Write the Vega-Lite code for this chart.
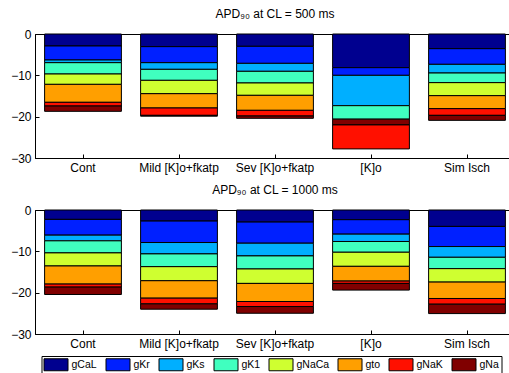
{
  "$schema": "https://vega.github.io/schema/vega-lite/v6.json",
  "padding": {"left": 10, "top": 7, "right": 0, "bottom": 0},
  "config": {
    "font": "Liberation Sans",
    "view": {"stroke": "black", "strokeWidth": 1},
    "axis": {"domainColor": "black", "tickColor": "black", "labelColor": "black", "labelFontSize": 12, "grid": false, "tickSize": -4, "labelPadding": 8, "domainWidth": 1, "tickWidth": 1},
    "title": {"fontSize": 12, "fontWeight": "normal", "color": "black"},
    "legend": {"orient": "none", "legendX": 6.5, "legendY": 322, "direction": "horizontal", "title": null, "symbolType": "M-1,-1H3V1H-1Z", "symbolSize": 144, "symbolStrokeColor": "black", "symbolStrokeWidth": 1, "symbolOpacity": 1, "labelFontSize": 10.5, "labelColor": "black", "labelOffset": 15, "columnPadding": 6, "padding": 2, "strokeColor": "black", "fillColor": "white"}
  },
  "datasets": {
    "apd": [
      {"cl": 500, "cond": "Cont", "g": "gCaL", "v": -2.9, "k": 1},
      {"cl": 500, "cond": "Cont", "g": "gKr", "v": -3.39, "k": 2},
      {"cl": 500, "cond": "Cont", "g": "gKs", "v": -0.65, "k": 3},
      {"cl": 500, "cond": "Cont", "g": "gK1", "v": -2.74, "k": 4},
      {"cl": 500, "cond": "Cont", "g": "gNaCa", "v": -2.5, "k": 5},
      {"cl": 500, "cond": "Cont", "g": "gto", "v": -4.35, "k": 6},
      {"cl": 500, "cond": "Cont", "g": "gNaK", "v": -0.89, "k": 7},
      {"cl": 500, "cond": "Cont", "g": "gNa", "v": -1.29, "k": 8},
      {"cl": 500, "cond": "Mild [K]o+fkatp", "g": "gCaL", "v": -3.06, "k": 1},
      {"cl": 500, "cond": "Mild [K]o+fkatp", "g": "gKr", "v": -3.88, "k": 2},
      {"cl": 500, "cond": "Mild [K]o+fkatp", "g": "gKs", "v": -1.61, "k": 3},
      {"cl": 500, "cond": "Mild [K]o+fkatp", "g": "gK1", "v": -2.66, "k": 4},
      {"cl": 500, "cond": "Mild [K]o+fkatp", "g": "gNaCa", "v": -3.23, "k": 5},
      {"cl": 500, "cond": "Mild [K]o+fkatp", "g": "gto", "v": -3.46, "k": 6},
      {"cl": 500, "cond": "Mild [K]o+fkatp", "g": "gNaK", "v": -1.78, "k": 7},
      {"cl": 500, "cond": "Mild [K]o+fkatp", "g": "gNa", "v": -0.2, "k": 8},
      {"cl": 500, "cond": "Sev [K]o+fkatp", "g": "gCaL", "v": -2.98, "k": 1},
      {"cl": 500, "cond": "Sev [K]o+fkatp", "g": "gKr", "v": -4.12, "k": 2},
      {"cl": 500, "cond": "Sev [K]o+fkatp", "g": "gKs", "v": -1.93, "k": 3},
      {"cl": 500, "cond": "Sev [K]o+fkatp", "g": "gK1", "v": -2.82, "k": 4},
      {"cl": 500, "cond": "Sev [K]o+fkatp", "g": "gNaCa", "v": -2.99, "k": 5},
      {"cl": 500, "cond": "Sev [K]o+fkatp", "g": "gto", "v": -3.63, "k": 6},
      {"cl": 500, "cond": "Sev [K]o+fkatp", "g": "gNaK", "v": -1.37, "k": 7},
      {"cl": 500, "cond": "Sev [K]o+fkatp", "g": "gNa", "v": -0.56, "k": 8},
      {"cl": 500, "cond": "[K]o", "g": "gCaL", "v": -8.15, "k": 1},
      {"cl": 500, "cond": "[K]o", "g": "gKr", "v": -1.85, "k": 2},
      {"cl": 500, "cond": "[K]o", "g": "gKs", "v": -7.34, "k": 3},
      {"cl": 500, "cond": "[K]o", "g": "gK1", "v": -3.26, "k": 4},
      {"cl": 500, "cond": "[K]o", "g": "gNa", "v": -1.4, "k": 7},
      {"cl": 500, "cond": "[K]o", "g": "gNaK", "v": -5.8, "k": 8},
      {"cl": 500, "cond": "Sim Isch", "g": "gCaL", "v": -3.55, "k": 1},
      {"cl": 500, "cond": "Sim Isch", "g": "gKr", "v": -3.79, "k": 2},
      {"cl": 500, "cond": "Sim Isch", "g": "gKs", "v": -2.1, "k": 3},
      {"cl": 500, "cond": "Sim Isch", "g": "gK1", "v": -2.33, "k": 4},
      {"cl": 500, "cond": "Sim Isch", "g": "gNaCa", "v": -3.15, "k": 5},
      {"cl": 500, "cond": "Sim Isch", "g": "gto", "v": -3.14, "k": 6},
      {"cl": 500, "cond": "Sim Isch", "g": "gNaK", "v": -1.62, "k": 7},
      {"cl": 500, "cond": "Sim Isch", "g": "gNa", "v": -1.21, "k": 8},
      {"cl": 1000, "cond": "Cont", "g": "gCaL", "v": -2.27, "k": 1},
      {"cl": 1000, "cond": "Cont", "g": "gKr", "v": -3.81, "k": 2},
      {"cl": 1000, "cond": "Cont", "g": "gKs", "v": -1.38, "k": 3},
      {"cl": 1000, "cond": "Cont", "g": "gK1", "v": -2.92, "k": 4},
      {"cl": 1000, "cond": "Cont", "g": "gNaCa", "v": -3.16, "k": 5},
      {"cl": 1000, "cond": "Cont", "g": "gto", "v": -4.38, "k": 6},
      {"cl": 1000, "cond": "Cont", "g": "gNaK", "v": -0.73, "k": 7},
      {"cl": 1000, "cond": "Cont", "g": "gNa", "v": -1.79, "k": 8},
      {"cl": 1000, "cond": "Mild [K]o+fkatp", "g": "gCaL", "v": -2.68, "k": 1},
      {"cl": 1000, "cond": "Mild [K]o+fkatp", "g": "gKr", "v": -5.19, "k": 2},
      {"cl": 1000, "cond": "Mild [K]o+fkatp", "g": "gKs", "v": -2.75, "k": 3},
      {"cl": 1000, "cond": "Mild [K]o+fkatp", "g": "gK1", "v": -3.09, "k": 4},
      {"cl": 1000, "cond": "Mild [K]o+fkatp", "g": "gNaCa", "v": -3.4, "k": 5},
      {"cl": 1000, "cond": "Mild [K]o+fkatp", "g": "gto", "v": -4.22, "k": 6},
      {"cl": 1000, "cond": "Mild [K]o+fkatp", "g": "gNaK", "v": -1.38, "k": 7},
      {"cl": 1000, "cond": "Mild [K]o+fkatp", "g": "gNa", "v": -1.29, "k": 8},
      {"cl": 1000, "cond": "Sev [K]o+fkatp", "g": "gCaL", "v": -2.92, "k": 1},
      {"cl": 1000, "cond": "Sev [K]o+fkatp", "g": "gKr", "v": -5.11, "k": 2},
      {"cl": 1000, "cond": "Sev [K]o+fkatp", "g": "gKs", "v": -3.08, "k": 3},
      {"cl": 1000, "cond": "Sev [K]o+fkatp", "g": "gK1", "v": -3.16, "k": 4},
      {"cl": 1000, "cond": "Sev [K]o+fkatp", "g": "gNaCa", "v": -3.49, "k": 5},
      {"cl": 1000, "cond": "Sev [K]o+fkatp", "g": "gto", "v": -4.38, "k": 6},
      {"cl": 1000, "cond": "Sev [K]o+fkatp", "g": "gNaK", "v": -1.22, "k": 7},
      {"cl": 1000, "cond": "Sev [K]o+fkatp", "g": "gNa", "v": -1.62, "k": 8},
      {"cl": 1000, "cond": "[K]o", "g": "gCaL", "v": -2.35, "k": 1},
      {"cl": 1000, "cond": "[K]o", "g": "gKr", "v": -3.49, "k": 2},
      {"cl": 1000, "cond": "[K]o", "g": "gKs", "v": -1.78, "k": 3},
      {"cl": 1000, "cond": "[K]o", "g": "gK1", "v": -2.6, "k": 4},
      {"cl": 1000, "cond": "[K]o", "g": "gNaCa", "v": -3.41, "k": 5},
      {"cl": 1000, "cond": "[K]o", "g": "gto", "v": -3.56, "k": 6},
      {"cl": 1000, "cond": "[K]o", "g": "gNaK", "v": -0.57, "k": 7},
      {"cl": 1000, "cond": "[K]o", "g": "gNa", "v": -1.62, "k": 8},
      {"cl": 1000, "cond": "Sim Isch", "g": "gCaL", "v": -3.97, "k": 1},
      {"cl": 1000, "cond": "Sim Isch", "g": "gKr", "v": -4.87, "k": 2},
      {"cl": 1000, "cond": "Sim Isch", "g": "gKs", "v": -2.6, "k": 3},
      {"cl": 1000, "cond": "Sim Isch", "g": "gK1", "v": -2.75, "k": 4},
      {"cl": 1000, "cond": "Sim Isch", "g": "gNaCa", "v": -3.25, "k": 5},
      {"cl": 1000, "cond": "Sim Isch", "g": "gto", "v": -3.97, "k": 6},
      {"cl": 1000, "cond": "Sim Isch", "g": "gNaK", "v": -1.38, "k": 7},
      {"cl": 1000, "cond": "Sim Isch", "g": "gNa", "v": -2.27, "k": 8}
    ]
  },
  "spacing": 9,
  "vconcat": [
    {
      "width": 480,
      "height": 124,
      "title": {"text": "APD₉₀ at CL = 500 ms", "offset": 7},
      "data": {"name": "apd"},
      "transform": [{"filter": "datum.cl == 500"}],
      "mark": {"type": "bar", "stroke": "black", "strokeWidth": 1},
      "encoding": {
        "x": {"field": "cond", "type": "nominal", "sort": ["Cont", "Mild [K]o+fkatp", "Sev [K]o+fkatp", "[K]o", "Sim Isch"], "scale": {"paddingInner": 0.2, "paddingOuter": 0.1}, "axis": {"title": null, "labelAngle": 0}},
        "y": {"field": "v", "type": "quantitative", "stack": "zero", "scale": {"domain": [-30, 0], "nice": false}, "axis": {"title": null, "values": [-30, -20, -10, 0]}},
        "color": {"field": "g", "type": "nominal", "scale": {"domain": ["gCaL", "gKr", "gKs", "gK1", "gNaCa", "gto", "gNaK", "gNa"], "range": ["#00008F", "#0020FF", "#00AFFF", "#40FFBF", "#CFFF30", "#FF9F00", "#FF1000", "#800000"]}},
        "order": {"field": "k", "type": "quantitative"}
      }
    },
    {
      "width": 480,
      "height": 124,
      "title": {"text": "APD₉₀ at CL = 1000 ms", "offset": 7},
      "data": {"name": "apd"},
      "transform": [{"filter": "datum.cl == 1000"}],
      "mark": {"type": "bar", "stroke": "black", "strokeWidth": 1},
      "encoding": {
        "x": {"field": "cond", "type": "nominal", "sort": ["Cont", "Mild [K]o+fkatp", "Sev [K]o+fkatp", "[K]o", "Sim Isch"], "scale": {"paddingInner": 0.2, "paddingOuter": 0.1}, "axis": {"title": null, "labelAngle": 0}},
        "y": {"field": "v", "type": "quantitative", "stack": "zero", "scale": {"domain": [-30, 0], "nice": false}, "axis": {"title": null, "values": [-30, -20, -10, 0]}},
        "color": {"field": "g", "type": "nominal", "scale": {"domain": ["gCaL", "gKr", "gKs", "gK1", "gNaCa", "gto", "gNaK", "gNa"], "range": ["#00008F", "#0020FF", "#00AFFF", "#40FFBF", "#CFFF30", "#FF9F00", "#FF1000", "#800000"]}},
        "order": {"field": "k", "type": "quantitative"}
      }
    }
  ]
}
